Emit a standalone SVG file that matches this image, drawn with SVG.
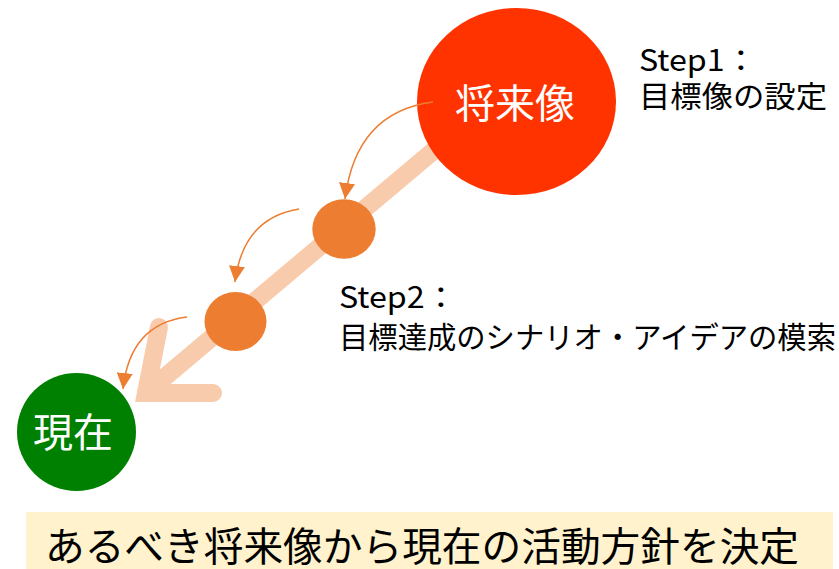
<svg xmlns="http://www.w3.org/2000/svg" width="839" height="569" viewBox="0 0 839 569">
<defs>
<style>
.t{font-family:"Noto Sans CJK JP","Noto Sans",sans-serif;}
.lbl{font-size:30px;fill:#000;}
.w{fill:#fff;font-size:40px;text-anchor:middle;}
.thin{fill:none;stroke:#ED7D31;stroke-width:1.5;}
.shaft{fill:none;stroke:#F8CBAD;stroke-width:18;stroke-linecap:round;stroke-linejoin:miter;}
</style>
<marker id="ah" viewBox="0 0 10 10" refX="10" refY="5" markerWidth="16" markerHeight="16" markerUnits="userSpaceOnUse" orient="auto">
<path d="M0,0 L10,5 L0,10 z" fill="#ED7D31"/>
</marker>
</defs>
<g id="connectors">
<path class="shaft" d="M470,120 L146,393"/>
<polyline class="shaft" points="159,327 146,393 213,393"/>
</g>
<g id="future">
<ellipse cx="516.5" cy="101.5" rx="99.5" ry="93.5" fill="#FF3300"/>
<text class="t w" x="515" y="118">将来像</text>
</g>
<g id="step-a">
<ellipse cx="344" cy="229" rx="31.7" ry="29.7" fill="#ED7D31"/>
</g>
<g id="step-b">
<ellipse cx="235.5" cy="321.5" rx="31" ry="29.5" fill="#ED7D31"/>
</g>
<g id="present">
<ellipse cx="76.5" cy="432" rx="59.5" ry="59" fill="#008000"/>
<text class="t w" x="73" y="447">現在</text>
</g>
<g id="curved-arrows">
<path class="thin" d="M433,102 Q356,112 345,199" marker-end="url(#ah)"/>
<path class="thin" d="M299,209 Q243,218 235,282" marker-end="url(#ah)"/>
<path class="thin" d="M187,317 Q130,324 123,389" marker-end="url(#ah)"/>
</g>
<g id="step1-label">
<text class="t lbl" x="639" y="71" font-size="32" textLength="118" lengthAdjust="spacingAndGlyphs">Step1：</text>
<text class="t lbl" x="639" y="107" textLength="188" lengthAdjust="spacingAndGlyphs">目標像の設定</text>
</g>
<g id="step2-label">
<text class="t lbl" x="339" y="308" font-size="32" textLength="118" lengthAdjust="spacingAndGlyphs">Step2：</text>
<text class="t lbl" x="339" y="348" textLength="497" lengthAdjust="spacingAndGlyphs">目標達成のシナリオ・アイデアの模索</text>
</g>
<g id="summary">
<rect x="26" y="512" width="807" height="60" fill="#FFF2CC"/>
<text class="t" x="45" y="561" font-size="40" fill="#000" textLength="754" lengthAdjust="spacingAndGlyphs">あるべき将来像から現在の活動方針を決定</text>
</g>
</svg>
